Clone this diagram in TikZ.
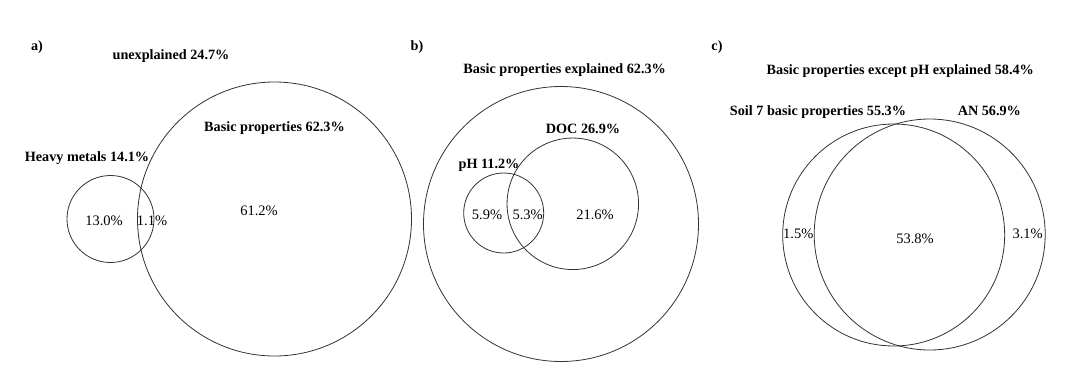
\documentclass[tikz,border=0pt]{standalone}
\usepackage{fontspec}
\setmainfont{Liberation Serif}
\begin{document}
\begin{tikzpicture}[x=1pt,y=-1pt,
  lab/.style={inner sep=0pt,text height=0.66em,text depth=0pt,font=\fontsize{14.2}{16}\selectfont\bfseries},
  val/.style={inner sep=0pt,text height=0.66em,text depth=0pt,font=\fontsize{14.5}{16}\selectfont},
  set/.style={circle,draw=black!80,line width=0.8pt,inner sep=0pt}]
\useasboundingbox[fill=white] (0,0) rectangle (1076,367);
% panel a
\node[lab] (pa) at (37,47) {a)};
\node[lab] (unexp) at (171,56) {unexplained 24.7\%};
\node[set,minimum size=274pt] (bpA) at (274.5,219) {};
\node[set,minimum size=87pt] (hm) at (110.5,219) {};
\node[lab] (bpAl) at (274.5,128) {Basic properties 62.3\%};
\node[lab] (hml) at (87,158) {Heavy metals 14.1\%};
\node[val] (a1) at (104,222) {13.0\%};
\node[val] (a2) at (152,222) {1.1\%};
\node[val] (a3) at (259,212) {61.2\%};
% panel b
\node[lab] (pb) at (417,47) {b)};
\node[lab] (bpBl) at (564.7,70) {Basic properties explained 62.3\%};
\node[set,minimum size=275pt] (bpB) at (561,224) {};
\node[set,minimum size=80pt] (ph) at (503.7,213) {};
\node[set,minimum size=131.5pt] (doc) at (572.8,203.8) {};
\node[lab] (docl) at (583,130) {DOC 26.9\%};
\node[lab] (phl) at (489,165) {pH 11.2\%};
\node[val] (b1) at (487,216) {5.9\%};
\node[val] (b2) at (527.7,216) {5.3\%};
\node[val] (b3) at (595,216) {21.6\%};
% panel c
\node[lab] (pc) at (717,47) {c)};
\node[lab] (bpCl) at (900.3,71) {Basic properties except pH explained 58.4\%};
\node[set,minimum size=222pt] (soil) at (893.7,235) {};
\node[set,minimum size=231pt] (an) at (929.7,234.5) {};
\node[lab] (soill) at (818,112) {Soil 7 basic properties 55.3\%};
\node[lab] (anl) at (989.3,112) {AN 56.9\%};
\node[val] (c1) at (798.3,235) {1.5\%};
\node[val] (c2) at (915,240) {53.8\%};
\node[val] (c3) at (1027.7,235) {3.1\%};
\end{tikzpicture}
\end{document}
